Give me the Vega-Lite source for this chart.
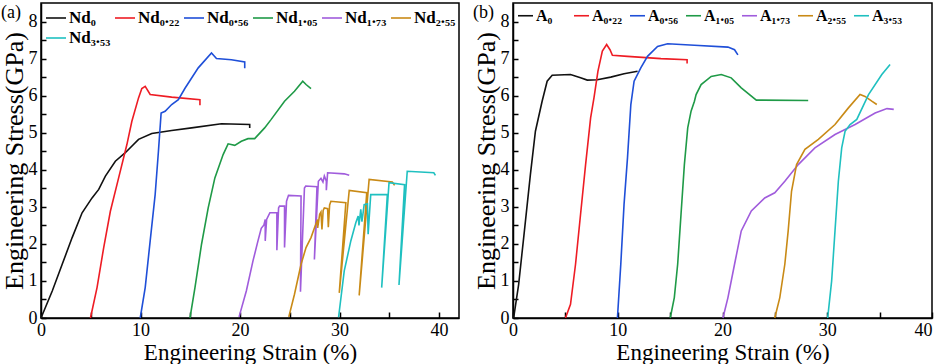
{
  "$schema": "https://vega.github.io/schema/vega-lite/v6.json",
  "padding": {"left": 0, "top": 2, "right": 0, "bottom": 0},
  "spacing": 12,
  "config": {
    "font": "Liberation Serif",
    "view": {"stroke": "black", "strokeWidth": 1.5},
    "axis": {
      "labelFont": "Liberation Serif", "titleFont": "Liberation Serif",
      "labelFontSize": 18, "labelColor": "black", "titleColor": "black",
      "titleFontWeight": "normal", "domainColor": "black", "domainWidth": 1.5,
      "tickColor": "black", "tickWidth": 1.5, "grid": false, "labelOverlap": false
    },
    "legend": {
      "labelFont": "Liberation Serif", "labelFontWeight": "bold", "labelColor": "black",
      "symbolType": "stroke", "symbolStrokeWidth": 2, "padding": 0, "titlePadding": 0,
      "direction": "horizontal"
    },
    "line": {"strokeWidth": 1.6}
  },
  "datasets": {
    "a": [
      {"s":"Nd₀","x":0,"y":0},{"s":"Nd₀","x":1.13,"y":0.73},{"s":"Nd₀","x":2.13,"y":1.45},{"s":"Nd₀","x":3.13,"y":2.17},{"s":"Nd₀","x":4.13,"y":2.84},{"s":"Nd₀","x":5.13,"y":3.24},{"s":"Nd₀","x":5.8,"y":3.47},{"s":"Nd₀","x":6.47,"y":3.83},{"s":"Nd₀","x":7.47,"y":4.23},{"s":"Nd₀","x":8.47,"y":4.46},{"s":"Nd₀","x":9.8,"y":4.82},{"s":"Nd₀","x":11.13,"y":4.98},{"s":"Nd₀","x":13.13,"y":5.06},{"s":"Nd₀","x":15.13,"y":5.13},{"s":"Nd₀","x":18.13,"y":5.24},{"s":"Nd₀","x":20.97,"y":5.22},{"s":"Nd₀","x":20.97,"y":5.13},
      {"s":"Nd₀.₂₂","x":4.97,"y":0},{"s":"Nd₀.₂₂","x":5.63,"y":0.82},{"s":"Nd₀.₂₂","x":6.3,"y":1.9},{"s":"Nd₀.₂₂","x":6.97,"y":2.88},{"s":"Nd₀.₂₂","x":7.8,"y":3.78},{"s":"Nd₀.₂₂","x":8.63,"y":4.68},{"s":"Nd₀.₂₂","x":9.13,"y":5.31},{"s":"Nd₀.₂₂","x":9.8,"y":5.94},{"s":"Nd₀.₂₂","x":10.13,"y":6.19},{"s":"Nd₀.₂₂","x":10.47,"y":6.25},{"s":"Nd₀.₂₂","x":10.97,"y":6.03},{"s":"Nd₀.₂₂","x":13.13,"y":5.96},{"s":"Nd₀.₂₂","x":15.97,"y":5.89},{"s":"Nd₀.₂₂","x":15.97,"y":5.74},
      {"s":"Nd₀.₅₆","x":9.97,"y":0},{"s":"Nd₀.₅₆","x":10.47,"y":0.82},{"s":"Nd₀.₅₆","x":10.97,"y":2.08},{"s":"Nd₀.₅₆","x":11.47,"y":3.33},{"s":"Nd₀.₅₆","x":11.8,"y":4.5},{"s":"Nd₀.₅₆","x":12.07,"y":5.53},{"s":"Nd₀.₅₆","x":12.47,"y":5.58},{"s":"Nd₀.₅₆","x":13.13,"y":5.76},{"s":"Nd₀.₅₆","x":13.8,"y":5.89},{"s":"Nd₀.₅₆","x":14.47,"y":6.2},{"s":"Nd₀.₅₆","x":15.8,"y":6.75},{"s":"Nd₀.₅₆","x":17.13,"y":7.15},{"s":"Nd₀.₅₆","x":17.63,"y":7.0},{"s":"Nd₀.₅₆","x":19.13,"y":6.97},{"s":"Nd₀.₅₆","x":20.47,"y":6.91},{"s":"Nd₀.₅₆","x":20.47,"y":6.74},
      {"s":"Nd₁.₀₅","x":14.97,"y":0},{"s":"Nd₁.₀₅","x":15.47,"y":0.82},{"s":"Nd₁.₀₅","x":16.13,"y":1.99},{"s":"Nd₁.₀₅","x":16.8,"y":2.97},{"s":"Nd₁.₀₅","x":17.47,"y":3.78},{"s":"Nd₁.₀₅","x":18.3,"y":4.41},{"s":"Nd₁.₀₅","x":18.8,"y":4.7},{"s":"Nd₁.₀₅","x":19.47,"y":4.66},{"s":"Nd₁.₀₅","x":20.13,"y":4.77},{"s":"Nd₁.₀₅","x":20.8,"y":4.84},{"s":"Nd₁.₀₅","x":21.47,"y":4.84},{"s":"Nd₁.₀₅","x":22.47,"y":5.13},{"s":"Nd₁.₀₅","x":23.13,"y":5.36},{"s":"Nd₁.₀₅","x":24.47,"y":5.85},{"s":"Nd₁.₀₅","x":25.47,"y":6.12},{"s":"Nd₁.₀₅","x":26.3,"y":6.39},{"s":"Nd₁.₀₅","x":26.63,"y":6.3},{"s":"Nd₁.₀₅","x":27.13,"y":6.19},
      {"s":"Nd₁.₇₃","x":19.9,"y":0.03},{"s":"Nd₁.₇₃","x":20.63,"y":0.73},{"s":"Nd₁.₇₃","x":21.3,"y":1.54},{"s":"Nd₁.₇₃","x":21.8,"y":2.08},{"s":"Nd₁.₇₃","x":22.13,"y":2.42},{"s":"Nd₁.₇₃","x":22.4,"y":2.51},{"s":"Nd₁.₇₃","x":22.53,"y":2.66},{"s":"Nd₁.₇₃","x":22.53,"y":2.08},{"s":"Nd₁.₇₃","x":22.67,"y":2.66},{"s":"Nd₁.₇₃","x":23.0,"y":2.84},{"s":"Nd₁.₇₃","x":23.7,"y":2.84},{"s":"Nd₁.₇₃","x":23.7,"y":1.83},{"s":"Nd₁.₇₃","x":23.87,"y":2.97},{"s":"Nd₁.₇₃","x":23.97,"y":3.02},{"s":"Nd₁.₇₃","x":24.47,"y":3.02},{"s":"Nd₁.₇₃","x":24.47,"y":1.9},{"s":"Nd₁.₇₃","x":24.67,"y":3.15},{"s":"Nd₁.₇₃","x":24.87,"y":3.31},{"s":"Nd₁.₇₃","x":26.13,"y":3.29},{"s":"Nd₁.₇₃","x":26.07,"y":0.71},{"s":"Nd₁.₇₃","x":26.47,"y":3.51},{"s":"Nd₁.₇₃","x":26.6,"y":3.56},{"s":"Nd₁.₇₃","x":27.73,"y":3.54},{"s":"Nd₁.₇₃","x":27.47,"y":1.58},{"s":"Nd₁.₇₃","x":27.87,"y":3.69},{"s":"Nd₁.₇₃","x":28.13,"y":3.77},{"s":"Nd₁.₇₃","x":28.33,"y":3.67},{"s":"Nd₁.₇₃","x":28.47,"y":3.83},{"s":"Nd₁.₇₃","x":28.67,"y":3.69},{"s":"Nd₁.₇₃","x":28.67,"y":3.45},{"s":"Nd₁.₇₃","x":28.8,"y":3.92},{"s":"Nd₁.₇₃","x":30.47,"y":3.89},{"s":"Nd₁.₇₃","x":30.97,"y":3.85},
      {"s":"Nd₂.₅₅","x":24.9,"y":0.03},{"s":"Nd₂.₅₅","x":25.47,"y":0.64},{"s":"Nd₂.₅₅","x":26.13,"y":1.45},{"s":"Nd₂.₅₅","x":26.63,"y":1.9},{"s":"Nd₂.₅₅","x":27.13,"y":2.17},{"s":"Nd₂.₅₅","x":27.47,"y":2.43},{"s":"Nd₂.₅₅","x":27.8,"y":2.66},{"s":"Nd₂.₅₅","x":27.8,"y":2.43},{"s":"Nd₂.₅₅","x":28.0,"y":2.8},{"s":"Nd₂.₅₅","x":28.13,"y":2.86},{"s":"Nd₂.₅₅","x":28.23,"y":2.39},{"s":"Nd₂.₅₅","x":28.35,"y":2.9},{"s":"Nd₂.₅₅","x":28.47,"y":2.97},{"s":"Nd₂.₅₅","x":28.8,"y":2.95},{"s":"Nd₂.₅₅","x":28.87,"y":2.45},{"s":"Nd₂.₅₅","x":29.0,"y":3.05},{"s":"Nd₂.₅₅","x":29.13,"y":3.15},{"s":"Nd₂.₅₅","x":30.63,"y":3.11},{"s":"Nd₂.₅₅","x":29.97,"y":0.68},{"s":"Nd₂.₅₅","x":30.97,"y":3.44},{"s":"Nd₂.₅₅","x":32.73,"y":3.38},{"s":"Nd₂.₅₅","x":31.97,"y":0.61},{"s":"Nd₂.₅₅","x":32.97,"y":3.74},{"s":"Nd₂.₅₅","x":35.3,"y":3.67},{"s":"Nd₂.₅₅","x":35.53,"y":3.58},
      {"s":"Nd₃.₅₃","x":29.9,"y":0.02},{"s":"Nd₃.₅₃","x":30.47,"y":1.27},{"s":"Nd₃.₅₃","x":31.13,"y":2.08},{"s":"Nd₃.₅₃","x":31.63,"y":2.57},{"s":"Nd₃.₅₃","x":31.87,"y":2.75},{"s":"Nd₃.₅₃","x":31.95,"y":2.5},{"s":"Nd₃.₅₃","x":32.13,"y":2.93},{"s":"Nd₃.₅₃","x":32.25,"y":2.6},{"s":"Nd₃.₅₃","x":32.47,"y":3.06},{"s":"Nd₃.₅₃","x":32.8,"y":3.08},{"s":"Nd₃.₅₃","x":32.87,"y":2.26},{"s":"Nd₃.₅₃","x":33.13,"y":3.33},{"s":"Nd₃.₅₃","x":34.8,"y":3.33},{"s":"Nd₃.₅₃","x":34.23,"y":0.82},{"s":"Nd₃.₅₃","x":34.97,"y":3.65},{"s":"Nd₃.₅₃","x":36.53,"y":3.6},{"s":"Nd₃.₅₃","x":35.97,"y":0.89},{"s":"Nd₃.₅₃","x":36.8,"y":3.96},{"s":"Nd₃.₅₃","x":39.47,"y":3.92},{"s":"Nd₃.₅₃","x":39.63,"y":3.85}
    ],
    "b": [
      {"s":"A₀","x":0.06,"y":0},{"s":"A₀","x":0.54,"y":0.91},{"s":"A₀","x":1.02,"y":2.17},{"s":"A₀","x":1.66,"y":3.87},{"s":"A₀","x":2.14,"y":5.04},{"s":"A₀","x":2.78,"y":5.85},{"s":"A₀","x":3.26,"y":6.39},{"s":"A₀","x":3.74,"y":6.55},{"s":"A₀","x":5.49,"y":6.57},{"s":"A₀","x":6.45,"y":6.48},{"s":"A₀","x":7.09,"y":6.42},{"s":"A₀","x":8.05,"y":6.43},{"s":"A₀","x":9.33,"y":6.5},{"s":"A₀","x":10.6,"y":6.59},{"s":"A₀","x":11.89,"y":6.66},
      {"s":"A₀.₂₂","x":5.01,"y":0},{"s":"A₀.₂₂","x":5.49,"y":0.37},{"s":"A₀.₂₂","x":5.97,"y":1.45},{"s":"A₀.₂₂","x":6.45,"y":2.8},{"s":"A₀.₂₂","x":6.93,"y":4.14},{"s":"A₀.₂₂","x":7.41,"y":5.4},{"s":"A₀.₂₂","x":7.73,"y":5.94},{"s":"A₀.₂₂","x":8.11,"y":6.66},{"s":"A₀.₂₂","x":8.53,"y":7.2},{"s":"A₀.₂₂","x":8.94,"y":7.38},{"s":"A₀.₂₂","x":9.26,"y":7.24},{"s":"A₀.₂₂","x":9.49,"y":7.09},{"s":"A₀.₂₂","x":10.93,"y":7.06},{"s":"A₀.₂₂","x":14.12,"y":7.0},{"s":"A₀.₂₂","x":16.62,"y":6.97},{"s":"A₀.₂₂","x":16.62,"y":6.87},
      {"s":"A₀.₅₆","x":9.97,"y":0},{"s":"A₀.₅₆","x":10.29,"y":1.45},{"s":"A₀.₅₆","x":10.6,"y":3.06},{"s":"A₀.₅₆","x":10.93,"y":4.32},{"s":"A₀.₅₆","x":11.25,"y":5.76},{"s":"A₀.₅₆","x":11.56,"y":6.39},{"s":"A₀.₅₆","x":12.2,"y":6.75},{"s":"A₀.₅₆","x":12.84,"y":7.06},{"s":"A₀.₅₆","x":13.8,"y":7.33},{"s":"A₀.₅₆","x":14.76,"y":7.4},{"s":"A₀.₅₆","x":17.32,"y":7.36},{"s":"A₀.₅₆","x":20.52,"y":7.31},{"s":"A₀.₅₆","x":21.15,"y":7.24},{"s":"A₀.₅₆","x":21.47,"y":7.1},
      {"s":"A₁.₀₅","x":15.01,"y":0},{"s":"A₁.₀₅","x":15.4,"y":0.55},{"s":"A₁.₀₅","x":15.72,"y":1.45},{"s":"A₁.₀₅","x":16.04,"y":2.8},{"s":"A₁.₀₅","x":16.36,"y":4.14},{"s":"A₁.₀₅","x":16.68,"y":5.13},{"s":"A₁.₀₅","x":17.0,"y":5.58},{"s":"A₁.₀₅","x":17.32,"y":5.85},{"s":"A₁.₀₅","x":17.48,"y":6.03},{"s":"A₁.₀₅","x":17.96,"y":6.3},{"s":"A₁.₀₅","x":18.92,"y":6.52},{"s":"A₁.₀₅","x":19.88,"y":6.57},{"s":"A₁.₀₅","x":20.83,"y":6.48},{"s":"A₁.₀₅","x":21.79,"y":6.21},{"s":"A₁.₀₅","x":23.23,"y":5.88},{"s":"A₁.₀₅","x":28.18,"y":5.87},
      {"s":"A₁.₇₃","x":20.04,"y":0},{"s":"A₁.₇₃","x":20.52,"y":0.55},{"s":"A₁.₇₃","x":21.15,"y":1.45},{"s":"A₁.₇₃","x":21.79,"y":2.35},{"s":"A₁.₇₃","x":22.75,"y":2.89},{"s":"A₁.₇₃","x":24.03,"y":3.24},{"s":"A₁.₇₃","x":24.99,"y":3.38},{"s":"A₁.₇₃","x":25.95,"y":3.69},{"s":"A₁.₇₃","x":27.23,"y":4.14},{"s":"A₁.₇₃","x":28.82,"y":4.59},{"s":"A₁.₇₃","x":30.74,"y":4.95},{"s":"A₁.₇₃","x":32.66,"y":5.22},{"s":"A₁.₇₃","x":34.57,"y":5.53},{"s":"A₁.₇₃","x":35.7,"y":5.65},{"s":"A₁.₇₃","x":36.35,"y":5.63},
      {"s":"A₂.₅₅","x":24.99,"y":0},{"s":"A₂.₅₅","x":25.47,"y":0.55},{"s":"A₂.₅₅","x":25.95,"y":1.45},{"s":"A₂.₅₅","x":26.27,"y":2.35},{"s":"A₂.₅₅","x":26.59,"y":3.42},{"s":"A₂.₅₅","x":27.07,"y":4.14},{"s":"A₂.₅₅","x":27.87,"y":4.55},{"s":"A₂.₅₅","x":29.15,"y":4.82},{"s":"A₂.₅₅","x":30.74,"y":5.22},{"s":"A₂.₅₅","x":32.02,"y":5.67},{"s":"A₂.₅₅","x":33.13,"y":6.03},{"s":"A₂.₅₅","x":33.61,"y":5.98},{"s":"A₂.₅₅","x":34.25,"y":5.85},{"s":"A₂.₅₅","x":34.73,"y":5.76},
      {"s":"A₃.₅₃","x":30.04,"y":0},{"s":"A₃.₅₃","x":30.42,"y":1.0},{"s":"A₃.₅₃","x":30.74,"y":2.35},{"s":"A₃.₅₃","x":31.06,"y":3.69},{"s":"A₃.₅₃","x":31.38,"y":4.59},{"s":"A₃.₅₃","x":31.7,"y":5.04},{"s":"A₃.₅₃","x":32.18,"y":5.22},{"s":"A₃.₅₃","x":32.82,"y":5.36},{"s":"A₃.₅₃","x":33.94,"y":6.03},{"s":"A₃.₅₃","x":35.21,"y":6.57},{"s":"A₃.₅₃","x":36.0,"y":6.84}
    ]
  },
  "hconcat": [
    {
      "width": 418, "height": 315,
      "layer": [
        {
          "data": {"name": "a"},
          "mark": {"type": "line"},
          "encoding": {
            "x": {"field": "x", "type": "quantitative", "scale": {"domain": [0, 42], "nice": false},
                  "axis": {"title": "Engineering Strain (%)", "titleFontSize": 23, "titlePadding": 2, "labelOverlap": false, "labelBound": false, "labelFlush": false,
                           "values": [0,5,10,15,20,25,30,35,40], "tickCount": 40, "labelExpr": "datum.value % 10 ? '' : '' + datum.value",
                           "labelFontSize": {"condition": {"test": "datum.value % 10 != 0", "value": 1}, "value": 18},
                           "tickSize": -6, "labelPadding": 9}},
            "y": {"field": "y", "type": "quantitative", "scale": {"domain": [0, 8.5], "nice": false},
                  "axis": {"title": "Engineering Stress(GPa)", "titleFontSize": 26, "titlePadding": 1, "labelOverlap": false, "labelBound": false, "labelFlush": false,
                           "values": [0,0.5,1,1.5,2,2.5,3,3.5,4,4.5,5,5.5,6,6.5,7,7.5,8], "tickCount": 40, "labelExpr": "datum.value % 1 ? '' : '' + datum.value",
                           "labelFontSize": {"condition": {"test": "datum.value % 1 != 0", "value": 1}, "value": 18},
                           "tickSize": -5, "labelPadding": 9}},
            "color": {"field": "s", "type": "nominal",
                      "scale": {"domain": ["Nd₀","Nd₀.₂₂","Nd₀.₅₆","Nd₁.₀₅","Nd₁.₇₃","Nd₂.₅₅","Nd₃.₅₃"],
                                "range": ["#111111","#ee1c24","#1f4fd8","#1f9a47","#a05cdc","#c98a16","#1fc0c0"]},
                      "legend": {"title": null, "orient": "top-left", "columns": 6, "offset": 4,
                                 "symbolSize": 400, "labelFontSize": 17, "labelOffset": 2,
                                 "columnPadding": 0, "rowPadding": 1, "gridAlign": "none"}},
            "order": {"value": null}
          }
        },
        {
          "data": {"values": [{"t": "(a)"}]},
          "mark": {"type": "text", "align": "left", "baseline": "top", "dx": -40, "dy": 1, "fontSize": 18, "font": "Liberation Serif"},
          "encoding": {"x": {"datum": 0}, "y": {"datum": 8.5}, "text": {"field": "t"}}
        }
      ]
    },
    {
      "width": 419, "height": 315,
      "layer": [
        {
          "data": {"name": "b"},
          "mark": {"type": "line"},
          "encoding": {
            "x": {"field": "x", "type": "quantitative", "scale": {"domain": [0, 40], "nice": false},
                  "axis": {"title": "Engineering Strain (%)", "titleFontSize": 23, "titlePadding": 2, "labelOverlap": false, "labelBound": false, "labelFlush": false,
                           "values": [0,5,10,15,20,25,30,35,40], "tickCount": 40, "labelExpr": "datum.value % 10 ? '' : '' + datum.value",
                           "labelFontSize": {"condition": {"test": "datum.value % 10 != 0", "value": 1}, "value": 18},
                           "labelAlign": {"condition": {"test": "datum.value == 40", "value": "right"}, "value": "center"},
                           "tickSize": -6, "labelPadding": 9}},
            "y": {"field": "y", "type": "quantitative", "scale": {"domain": [0, 8.5], "nice": false},
                  "axis": {"title": "Engineering Stress(GPa)", "titleFontSize": 26, "titlePadding": 1, "labelOverlap": false, "labelBound": false, "labelFlush": false,
                           "values": [0,0.5,1,1.5,2,2.5,3,3.5,4,4.5,5,5.5,6,6.5,7,7.5,8], "tickCount": 40, "labelExpr": "datum.value % 1 ? '' : '' + datum.value",
                           "labelFontSize": {"condition": {"test": "datum.value % 1 != 0", "value": 1}, "value": 18},
                           "tickSize": -5, "labelPadding": 9}},
            "color": {"field": "s", "type": "nominal",
                      "scale": {"domain": ["A₀","A₀.₂₂","A₀.₅₆","A₁.₀₅","A₁.₇₃","A₂.₅₅","A₃.₅₃"],
                                "range": ["#111111","#ee1c24","#1f4fd8","#1f9a47","#a05cdc","#c98a16","#1fc0c0"]},
                      "legend": {"title": null, "orient": "top-left", "columns": 7, "offset": 4,
                                 "symbolSize": 225, "labelFontSize": 16, "labelOffset": 2,
                                 "columnPadding": 4, "gridAlign": "all"}},
            "order": {"value": null}
          }
        },
        {
          "data": {"values": [{"t": "(b)"}]},
          "mark": {"type": "text", "align": "left", "baseline": "top", "dx": -40, "dy": 1, "fontSize": 18, "font": "Liberation Serif"},
          "encoding": {"x": {"datum": 0}, "y": {"datum": 8.5}, "text": {"field": "t"}}
        }
      ]
    }
  ],
  "resolve": {"scale": {"color": "independent"}}
}
